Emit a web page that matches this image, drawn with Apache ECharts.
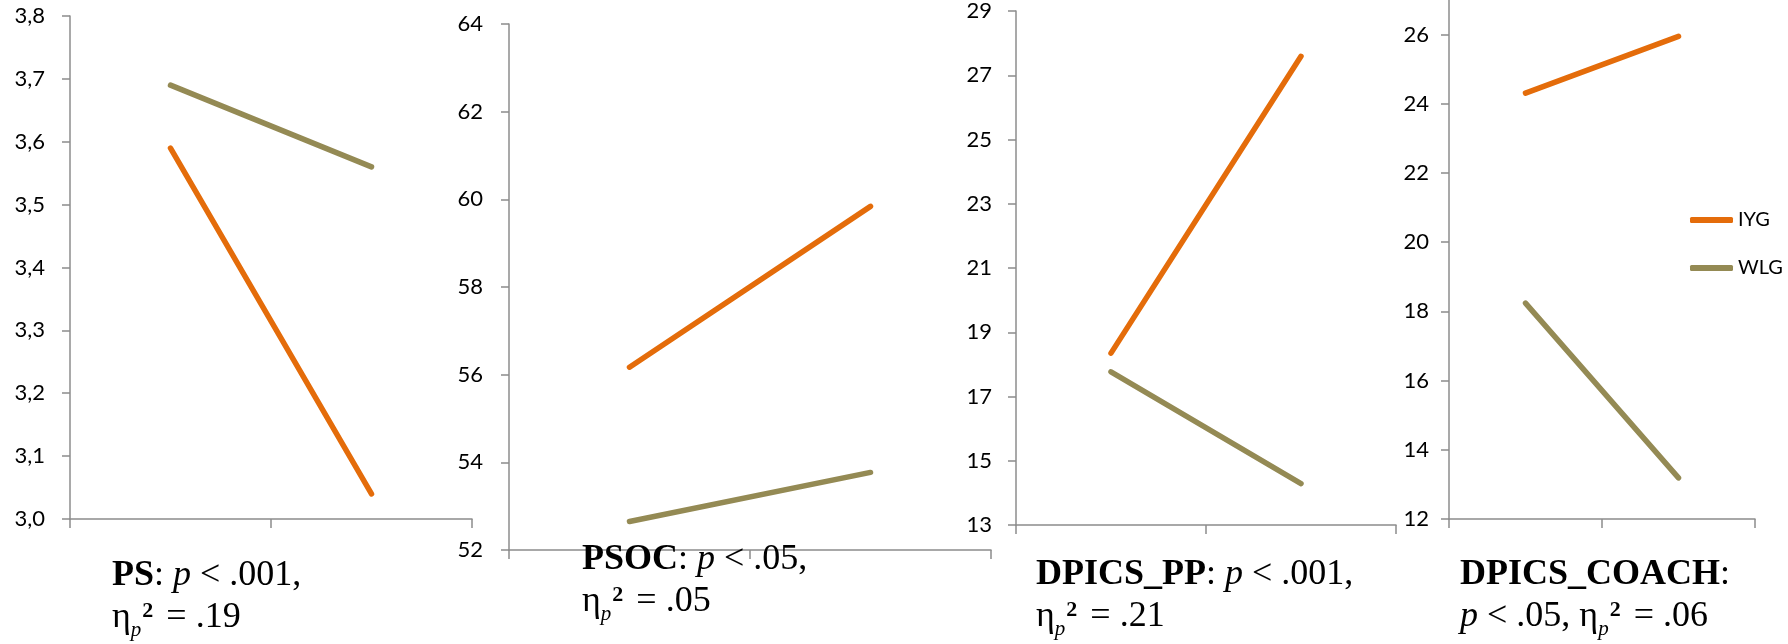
<!DOCTYPE html>
<html>
<head>
<meta charset="utf-8">
<script src="https://cdn.jsdelivr.net/npm/echarts@6/dist/echarts.min.js"></script>
<style>
  html, body { margin: 0; padding: 0; background: #fff; }
  #chart { width: 1788px; height: 644px; }
</style>
</head>
<body>
<div id="chart"></div>
<script>
// Two measurement occasions per panel (no axis labels shown)
const phases = ['Pre', 'Post'];
const groupNames = ['IYG', 'WLG'];

// PS
const psIYG = [3.59, 3.04];
const psWLG = [3.69, 3.56];
const psTicks = [3.0, 3.1, 3.2, 3.3, 3.4, 3.5, 3.6, 3.7, 3.8];

// PSOC
const psocIYG = [56.17, 59.84];
const psocWLG = [52.65, 53.77];
const psocTicks = [52, 54, 56, 58, 60, 62, 64];

// DPICS_PP
const ppIYG = [18.35, 27.59];
const ppWLG = [17.77, 14.29];
const ppTicks = [13, 15, 17, 19, 21, 23, 25, 27, 29];

// DPICS_COACH
const coachIYG = [24.31, 25.95];
const coachWLG = [18.24, 13.19];
const coachTicks = [12, 14, 16, 18, 20, 22, 24, 26];

// Panel captions (rich-text markup)
const captions = [
  '{b|PS}{n|: }{i|p}{n| < .001,}\n{n|η}{sub|p}{sup|2}{n| = .19}',
  '{b|PSOC}{n|: }{i|p}{n| < .05,}\n{n|η}{sub|p}{sup|2}{n| = .05}',
  '{b|DPICS_PP}{n|: }{i|p}{n| < .001,}\n{n|η}{sub|p}{sup|2}{n| = .21}',
  '{b|DPICS_COACH}{n|:}\n{i|p}{n| < .05, η}{sub|p}{sup|2}{n| = .06}'
];

const COLORS = { IYG: '#E46C0A', WLG: '#948A54' };
const AXIS_COLOR = '#8c8c8c';
const SERIF = '"Liberation Serif", "Times New Roman", serif';
const SANS = 'Lato, "Open Sans", sans-serif';

// Layout of each panel
const panels = [
  { iyg: psIYG, wlg: psWLG, ticks: psTicks, min: 3.0, max: 3.8,
    grid: { left: 70, top: 16, width: 402, height: 503 }, labelMargin: 25,
    fmt: v => v.toFixed(1).replace('.', ','), cap: { left: 112, top: 558 } },
  { iyg: psocIYG, wlg: psocWLG, ticks: psocTicks, min: 52, max: 64,
    grid: { left: 509, top: 24, width: 482, height: 526 }, labelMargin: 26,
    fmt: v => String(v), cap: { left: 582, top: 542 } },
  { iyg: ppIYG, wlg: ppWLG, ticks: ppTicks, min: 13, max: 29,
    grid: { left: 1016, top: 11, width: 380, height: 514 }, labelMargin: 24,
    fmt: v => String(v), cap: { left: 1036, top: 557 } },
  { iyg: coachIYG, wlg: coachWLG, ticks: coachTicks, min: 12, max: 27,
    grid: { left: 1449, top: 0, width: 306, height: 519 }, labelMargin: 20,
    fmt: v => String(v), cap: { left: 1460, top: 557 } }
];

const LH = 42;
const FS = 36;
const rich = {
  b:   { fontFamily: SERIF, fontWeight: 'bold', fontSize: FS, lineHeight: LH, verticalAlign: 'top', color: '#000' },
  n:   { fontFamily: SERIF, fontWeight: 'normal', fontSize: FS, lineHeight: LH, verticalAlign: 'top', color: '#000' },
  i:   { fontFamily: SERIF, fontWeight: 'normal', fontStyle: 'italic', fontSize: FS, lineHeight: LH, verticalAlign: 'top', color: '#000' },
  sub: { fontFamily: SERIF, fontWeight: 'normal', fontStyle: 'italic', fontSize: 21, lineHeight: 20, padding: [20, 0, 0, 0], verticalAlign: 'top', color: '#000' },
  sup: { fontFamily: SERIF, fontWeight: 'bold', fontSize: 22, lineHeight: 18, padding: [0, 4, 0, 1], verticalAlign: 'top', color: '#000' }
};

const grid = [], xAxis = [], yAxis = [], series = [], title = [];

panels.forEach((p, k) => {
  grid.push(Object.assign({ containLabel: false }, p.grid));
  xAxis.push({
    type: 'category', gridIndex: k, data: phases, boundaryGap: true,
    axisLine: { lineStyle: { color: AXIS_COLOR, width: 1.5 } },
    axisTick: { show: true, length: 9, alignWithLabel: false, lineStyle: { color: AXIS_COLOR, width: 1.5 } },
    axisLabel: { show: false }, splitLine: { show: false }
  });
  yAxis.push({
    type: 'value', gridIndex: k, min: p.min, max: p.max,
    axisLine: { show: true, lineStyle: { color: AXIS_COLOR, width: 1.5 } },
    axisTick: { show: true, length: 8, customValues: p.ticks, lineStyle: { color: AXIS_COLOR, width: 1.5 } },
    axisLabel: { customValues: p.ticks, margin: p.labelMargin, formatter: p.fmt,
                 fontFamily: SANS, fontSize: 22, color: '#000' },
    splitLine: { show: false }
  });
  [['IYG', p.iyg], ['WLG', p.wlg]].forEach(([name, vals]) => {
    series.push({
      type: 'line', name, xAxisIndex: k, yAxisIndex: k, data: vals,
      symbol: 'none', color: COLORS[name],
      lineStyle: { width: 5.5, color: COLORS[name], cap: 'round' },
      z: name === 'IYG' ? 3 : 2
    });
  });
  title.push({
    text: captions[k], left: p.cap.left, top: p.cap.top, padding: 0,
    textStyle: { fontWeight: 'normal', fontFamily: SERIF, fontSize: FS, rich }
  });
});

const chart = echarts.init(document.getElementById('chart'), null, { renderer: 'canvas' });
chart.setOption({
  animation: false,
  backgroundColor: '#fff',
  title, grid, xAxis, yAxis, series,
  legend: {
    data: groupNames, orient: 'vertical', left: 1685, top: 204,
    itemWidth: 43, itemHeight: 6, itemGap: 26, icon: 'roundRect',
    textStyle: { fontFamily: SANS, fontSize: 20, color: '#000', lineHeight: 22 },
    selectedMode: false
  }
});
</script>
</body>
</html>
